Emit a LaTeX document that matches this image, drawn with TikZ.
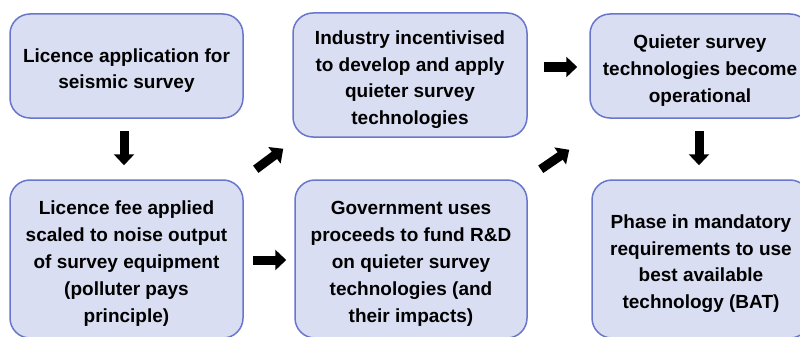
\documentclass[tikz,border=0pt]{standalone}
\usepackage{fontspec}
\setmainfont{Liberation Sans}
\usetikzlibrary{arrows.meta}
\definecolor{boxfill}{RGB}{218,222,242}
\definecolor{boxline}{RGB}{104,118,204}
\newcommand\boxtxt[1]{\raisebox{-8.5pt}[0pt][0pt]{\begin{tabular}{@{}c@{}}#1\end{tabular}}}
\begin{document}
\begin{tikzpicture}[x=1pt,y=1pt,
  flowbox/.style={draw=boxline, fill=boxfill, line width=1.5pt, rounded corners=20pt,
    align=center, inner sep=0pt, font=\fontsize{19}{26.8}\selectfont\bfseries},
  blockarrow/.style={draw=black, line width=9pt, -{Triangle[length=11pt,width=20pt]}}]
\clip (0,0) rectangle (800,-337);
\fill[white] (0,0) rectangle (800,-337);
\node[flowbox, minimum width=233pt, minimum height=104pt] (b1) at (126.5,-66)
  {\boxtxt{Licence application for\\seismic survey}};
\node[flowbox, minimum width=233pt, minimum height=158pt] (b2) at (126.5,-259)
  {\boxtxt{Licence fee applied\\scaled to noise output\\of survey equipment\\(polluter pays\\principle)}};
\node[flowbox, minimum width=234pt, minimum height=124pt] (b3) at (410,-75)
  {\boxtxt{Industry incentivised\\to develop and apply\\quieter survey\\technologies}};
\node[flowbox, minimum width=232pt, minimum height=158pt] (b4) at (411,-259)
  {\boxtxt{Government uses\\proceeds to fund R\&D\\on quieter survey\\technologies (and\\their impacts)}};
\node[flowbox, minimum width=220pt, minimum height=104pt] (b5) at (700,-66)
  {\boxtxt{Quieter survey\\technologies become\\operational}};
\node[flowbox, minimum width=218pt, minimum height=158pt] (b6) at (701,-259)
  {\boxtxt{Phase in mandatory\\requirements to use\\best available\\technology (BAT)}};
% arrows
\draw[blockarrow] ([shift={(-2.5,-12)}]b1.south) -- ([shift={(-2.5,14)}]b2.north);
\draw[blockarrow] ([shift={(12,10)}]b2.north east) -- ([shift={(-9,-11)}]b3.south west);
\draw[blockarrow] ([shift={(9,-1)}]b2.east) -- ([shift={(-8,-1)}]b4.west);
\draw[blockarrow] ([shift={(16,8)}]b3.east) -- ([shift={(-12,-1)}]b5.west);
\draw[blockarrow] ([shift={(13,10)}]b4.north east) -- ([shift={(-20,-31)}]b5.south west);
\draw[blockarrow] ([shift={(-1,-12)}]b5.south) -- ([shift={(-2,14)}]b6.north);
\end{tikzpicture}
\end{document}
